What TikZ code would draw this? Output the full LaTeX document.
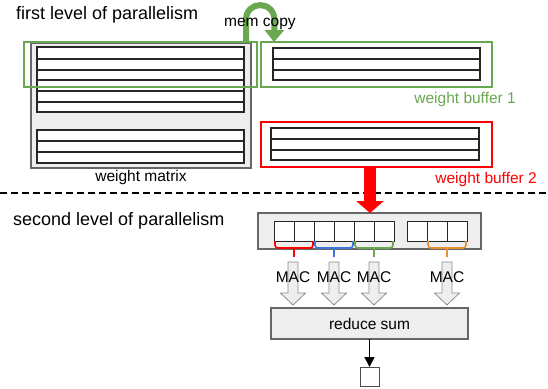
\documentclass[tikz,border=0pt]{standalone}
\usepackage{fontspec}
\setmainfont{Liberation Sans}
\usetikzlibrary{arrows.meta}
\definecolor{ggreen}{HTML}{6AA84F}
\definecolor{gblue}{HTML}{3C78D8}
\definecolor{gorange}{HTML}{E69138}
\definecolor{gred}{HTML}{FF0000}
\definecolor{boxfill}{HTML}{EEEEEE}
\tikzset{
  lbl/.style={font=\fontsize{15.5pt}{18pt}\selectfont, inner sep=0pt},
  ttl/.style={font=\fontsize{18pt}{21pt}\selectfont, inner sep=0pt},
  greybox/.style={draw=black!60, fill=boxfill, line width=1.3pt, inner sep=0pt, outer sep=0pt},
  bufbox/.style={draw=#1, line width=1.5pt, inner sep=0pt, outer sep=0pt},
  rowline/.style={draw=black!85, line width=1.1pt},
  cellbox/.style={draw=black!85, fill=white, line width=1pt},
  bracepath/.style={draw=#1, line width=1.6pt, rounded corners=3pt},
  hollow/.style={draw=black!45, fill=boxfill, line width=0.8pt},
  sep/.style={draw=black, line width=1.3pt, dash pattern=on 7pt off 4pt}
}
\begin{document}
\begin{tikzpicture}[x=1pt,y=-1pt]
\useasboundingbox (0,0) rectangle (548,388);

% weight matrix
\node[greybox, minimum width=220pt, minimum height=125pt] (wm) at (141,105.5) {};
\draw[rowline, fill=white] (37,47) rectangle (244,112);
\foreach \y in {59,70,80,91,102} \draw[rowline] (37,\y) -- (244,\y);
\draw[rowline, fill=white] (37,130) rectangle (244,163);
\foreach \y in {141,152} \draw[rowline] (37,\y) -- (244,\y);
\node[lbl, anchor=base] (wml) at (141,181.5) {weight matrix};

% selection (green) on weight matrix
\node[bufbox=ggreen, minimum width=233pt, minimum height=45pt] (gb1) at (140.5,64.5) {};

% weight buffer 1
\node[bufbox=ggreen, minimum width=231pt, minimum height=45pt] (wb1) at (376.5,64.5) {};
\draw[rowline, fill=white] (273,48) rectangle (480,80);
\foreach \y in {59,70} \draw[rowline] (273,\y) -- (480,\y);
\node[lbl, anchor=base east, text=ggreen] (wb1l) at (516,103.5) {weight buffer 1};

% weight buffer 2
\node[bufbox=gred, minimum width=231pt, minimum height=45pt] (wb2) at (376.5,144.5) {};
\draw[rowline, fill=white] (271,128) rectangle (479,160);
\foreach \y in {139,150} \draw[rowline] (271,\y) -- (479,\y);
\node[lbl, anchor=base east, text=gred] (wb2l) at (537,183) {weight buffer 2};

% mem copy arrow
\coordinate (mcs) at ([xshift=-11pt]gb1.north east);
\coordinate (mce) at ([xshift=13pt]wb1.north west);
\draw[ggreen, line width=6pt, -{Triangle[length=12pt,width=19pt]}]
  (mcs) -- (246,20) .. controls (246,0) and (275,0) .. (274.5,21) -- (mce);
\node[lbl, anchor=base west] (mc) at (224,26) {mem copy};

% titles and separator
\node[ttl, anchor=base west] (t1) at (16,19.5) {first level of parallelism};
\draw[sep] (0,193) -- (548,193);
\node[ttl, anchor=base west] (t2) at (13,225) {second level of parallelism};

% processing element row
\node[greybox, minimum width=223pt, minimum height=36pt] (pe) at (369.5,231) {};
\foreach \x in {274,294,314,334,354,374,407,427,447}
  \draw[cellbox] (\x,221) rectangle ++(20,20);

% red arrow from buffer 2
\draw[gred, line width=12pt, -{Triangle[length=12pt,width=27pt]}]
  ([xshift=-6.5pt]wb2.south) -- ([xshift=0.5pt]pe.north);

% braces
\foreach \a/\b/\c in {275/313/gred, 315/353/gblue, 355/393/ggreen, 428/466/gorange}{
  \draw[bracepath=\c] (\a,241) -- (\a,248) -- (\b,248) -- (\b,241);
  \draw[draw=\c, line width=1.6pt] ({(\a+\b)/2},248) -- ({(\a+\b)/2},257);
}

% reduce sum box
\node[greybox, minimum width=197pt, minimum height=31pt] (rs) at (369.5,323.5) {};
\node[lbl, anchor=base] (rsl) at (369.5,329) {reduce sum};

% hollow arrows
\foreach \x in {293,334,374,447}
  \draw[hollow] (\x-5,262) -- (\x+5,262) -- (\x+5,293) -- (\x+12.5,293) -- (\x,305)
     -- (\x-12.5,293) -- (\x-5,293) -- cycle;
\node[lbl, anchor=base] (mac1) at (293,282) {MAC};
\node[lbl, anchor=base] (mac2) at (334,282) {MAC};
\node[lbl, anchor=base] (mac3) at (374,282) {MAC};
\node[lbl, anchor=base] (mac4) at (447,282) {MAC};

% output
\node[draw=black!70, fill=white, line width=1pt, minimum size=19pt, inner sep=0pt, outer sep=0pt] (out) at (369.5,376.5) {};
\draw[black, line width=1.6pt, -{Triangle[length=10pt,width=10pt]}] (rs.south) -- (out.north);
\end{tikzpicture}
\end{document}
